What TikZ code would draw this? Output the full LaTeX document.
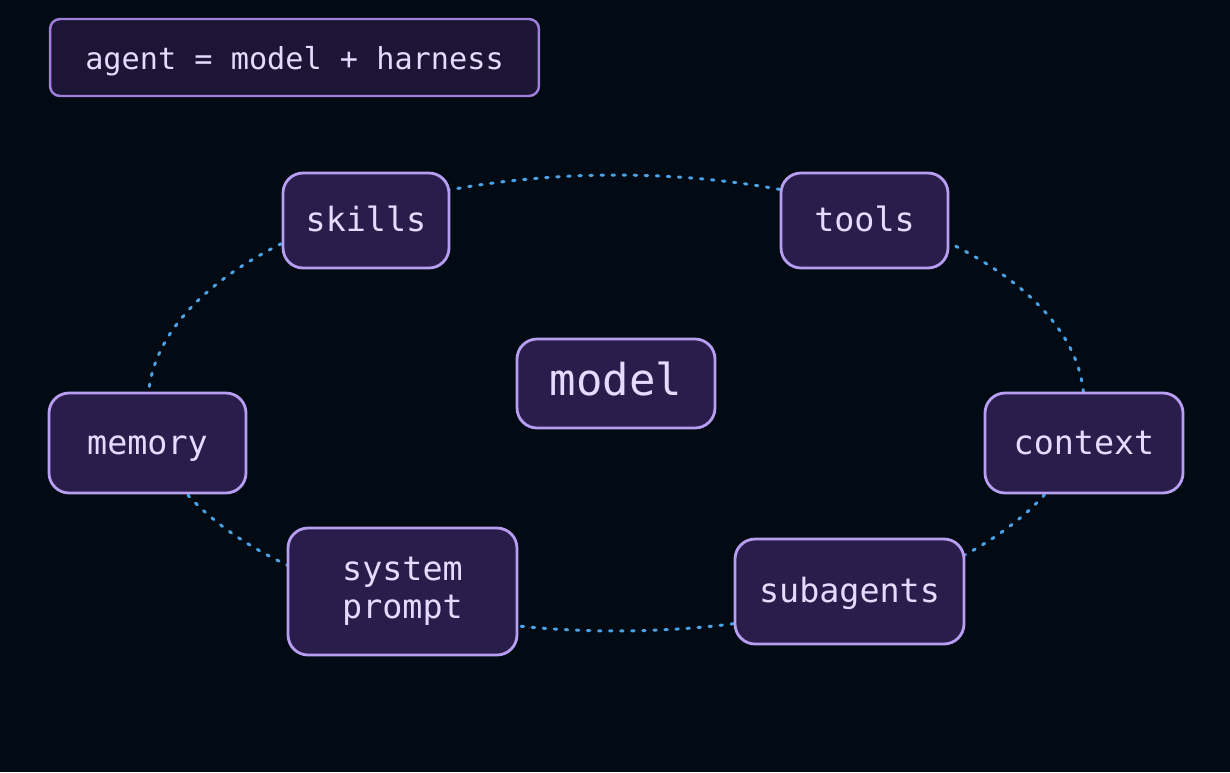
\documentclass[tikz,border=0pt]{standalone}
\usepackage{fontspec}
\setmonofont{DejaVu Sans Mono}
\definecolor{fond}{HTML}{020A14}
\definecolor{boite}{HTML}{2A1D4C}
\definecolor{boitesombre}{HTML}{1C1535}
\definecolor{bord}{HTML}{B79EF0}
\definecolor{bordsombre}{HTML}{9F80DA}
\definecolor{texte}{HTML}{E6DAFF}
\definecolor{anneau}{HTML}{4AA3E6}
\tikzset{
  bloc/.style={draw=bord, fill=boite, line width=1.6pt, rounded corners=0.4cm,
    text=texte, align=center, font=\ttfamily\fontsize{19}{21.5}\selectfont,
    text height=14pt, text depth=1pt},
  titre/.style={draw=bordsombre, fill=boitesombre, line width=1.4pt, rounded corners=0.2cm,
    text=texte, font=\ttfamily\fontsize{17.2}{20}\selectfont,
    text height=15pt, text depth=1pt,
    minimum width=9.78cm, minimum height=1.54cm},
  pointille/.style={draw=anneau, line width=1.7pt, line cap=round,
    dash pattern=on 1.4pt off 4.9pt}
}
\begin{document}
\begin{tikzpicture}[x=0.02cm, y=-0.02cm]
  % Fond
  \fill[fond] (0,0) rectangle (1230,772);
  \useasboundingbox (0,0) rectangle (1230,772);

  % Anneau pointillé autour du modèle
  \coordinate (centre) at (616,403);
  \draw[pointille] (centre) ellipse [x radius=9.36cm, y radius=4.56cm];

  % Légende
  \node[titre] (agent) at (294.5,57.5) {agent = model + harness};

  % Modèle au centre
  \node[bloc, minimum width=3.96cm, minimum height=1.78cm, text height=15pt,
    font=\ttfamily\fontsize{25}{28}\selectfont] (model) at (616,383.5) {model};

  % Composants du harnais
  \node[bloc, minimum width=3.32cm, minimum height=1.9cm] (skills) at (366,220.5) {skills};
  \node[bloc, minimum width=3.34cm, minimum height=1.9cm] (tools) at (864.5,220.5) {tools};
  \node[bloc, minimum width=3.94cm, minimum height=2cm] (memory) at (147.5,443) {memory};
  \node[bloc, minimum width=3.96cm, minimum height=2cm] (context) at (1084,443) {context};
  \node[bloc, minimum width=4.58cm, minimum height=2.54cm, text height=, text depth=]
    (prompt) at (402.5,591.5) {system\\prompt};
  \node[bloc, minimum width=4.58cm, minimum height=2.1cm] (subagents) at (849.5,591.5) {subagents};
\end{tikzpicture}
\end{document}
